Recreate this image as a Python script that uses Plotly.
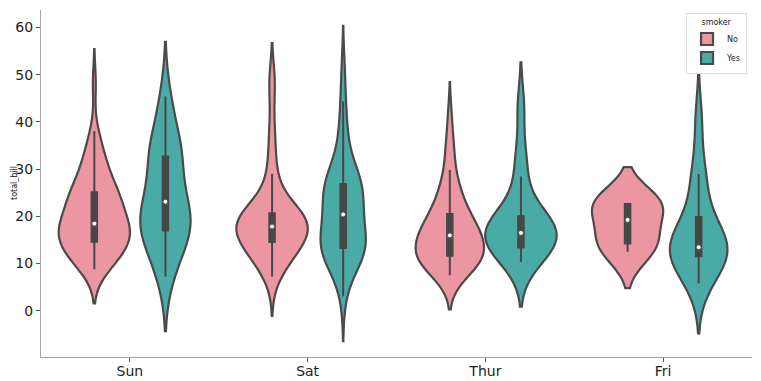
import numpy as np
import plotly.graph_objects as go

# ---- data (tips dataset, total_bill by day and smoker) ----
days = ["Sun", "Sat", "Thur", "Fri"]
smoker_levels = ["No", "Yes"]
y_ticks = [0, 10, 20, 30, 40, 50, 60]

sun_no = [16.99, 10.34, 21.01, 23.68, 24.59, 25.29, 8.77, 26.88, 15.04, 14.78,
          10.27, 35.26, 15.42, 18.43, 14.83, 21.58, 10.33, 16.29, 16.97, 17.46,
          13.94, 9.68, 30.4, 18.29, 22.23, 32.4, 28.55, 18.04, 12.54, 10.29,
          34.81, 9.94, 25.56, 19.49, 38.07, 23.95, 25.71, 17.31, 29.93, 14.07,
          13.13, 17.26, 24.55, 19.77, 29.85, 48.17, 25, 13.39, 16.49, 21.5,
          12.66, 16.21, 13.81, 24.52, 20.76, 31.71, 20.69]
sun_yes = [17.51, 7.25, 31.85, 16.82, 32.9, 17.89, 14.48, 9.6, 34.63, 34.65,
           23.33, 45.35, 23.17, 40.55, 20.9, 30.46, 18.15, 23.1, 15.69]
sat_no = [20.65, 17.92, 20.29, 15.77, 39.42, 19.82, 17.81, 13.37, 12.69, 21.7,
          19.65, 9.55, 18.35, 15.06, 20.69, 17.78, 24.06, 16.31, 16.93, 18.69,
          31.27, 16.04, 26.41, 48.27, 17.59, 20.08, 16.45, 20.23, 12.02, 17.07,
          14.73, 10.51, 20.92, 18.24, 14, 7.25, 48.33, 20.45, 13.28, 11.61,
          10.77, 10.07, 35.83, 29.03, 17.82]
sat_yes = [38.01, 11.24, 20.29, 13.81, 11.02, 18.29, 3.07, 15.01, 26.86, 25.28,
           17.92, 44.3, 22.42, 15.36, 20.49, 25.21, 14.31, 10.59, 10.63, 50.81,
           15.81, 26.59, 38.73, 24.27, 12.76, 30.06, 25.89, 13.27, 28.17, 12.9,
           28.15, 11.59, 7.74, 30.14, 22.12, 24.01, 15.69, 15.53, 12.6, 32.83,
           27.18, 22.67]
thur_no = [27.2, 22.76, 17.29, 16.66, 10.07, 15.98, 34.83, 13.03, 18.28, 24.71,
           21.16, 10.65, 12.43, 24.08, 11.69, 13.42, 14.26, 15.95, 12.48, 29.8,
           8.52, 14.52, 11.38, 22.82, 19.08, 20.27, 11.17, 12.26, 18.26, 8.51,
           10.33, 14.15, 13.16, 17.47, 34.3, 41.19, 27.05, 16.43, 8.35, 18.64,
           11.87, 9.78, 7.51, 7.56, 18.78]
thur_yes = [19.44, 32.68, 16, 19.81, 28.44, 15.48, 16.58, 10.34, 43.11, 13,
            13.51, 18.71, 12.74, 13, 16.4, 20.53, 16.47]
fri_no = [22.49, 22.75, 12.46, 15.98]
fri_yes = [28.97, 5.75, 16.32, 40.17, 27.28, 12.03, 21.01, 11.35, 15.38, 12.16,
           13.42, 8.58, 13.42, 16.27, 10.09]

groups = {
    ("Sun", "No"): sun_no, ("Sun", "Yes"): sun_yes,
    ("Sat", "No"): sat_no, ("Sat", "Yes"): sat_yes,
    ("Thur", "No"): thur_no, ("Thur", "Yes"): thur_yes,
    ("Fri", "No"): fri_no, ("Fri", "Yes"): fri_yes,
}

# ---- style ----
fill = {"No": "rgb(236,150,161)", "Yes": "rgb(74,171,166)"}
edge = "#4a4a4a"
boxc = "#474747"
offset = {"No": -0.2, "Yes": 0.2}
full_w = 0.4          # full width (data units) of the widest violin in each day
px_per_unit = 711 / 4.0


def scott_bw(v):
    v = np.asarray(v, float)
    return v.std(ddof=1) * len(v) ** (-0.2)


def kde_peak(v, bw):
    v = np.asarray(v, float)
    grid = np.linspace(v.min() - 2 * bw, v.max() + 2 * bw, 100)
    d = np.exp(-0.5 * ((grid[:, None] - v[None, :]) / bw) ** 2).sum(1)
    d /= len(v) * bw * np.sqrt(2 * np.pi)
    return d.max(), grid[0], grid[-1]


stats = {}
for key, vals in groups.items():
    bw = scott_bw(vals)
    peak, lo, hi = kde_peak(vals, bw)
    stats[key] = (bw, peak, lo, hi)
# seaborn scale="area" with scale_hue=True: scaled within each day
day_peak = {d: max(stats[(d, s)][1] for s in smoker_levels) for d in days}
ymin = min(s[2] for s in stats.values())
ymax = max(s[3] for s in stats.values())
pad = 0.05 * (ymax - ymin)

fig = go.Figure()
for i, d in enumerate(days):
    for s in smoker_levels:
        vals = groups[(d, s)]
        bw, peak, lo, hi = stats[(d, s)]
        w = full_w * peak / day_peak[d]
        pos = i + offset[s]
        fig.add_trace(go.Violin(
            x0=pos, y=vals, name=s, legendgroup=s, showlegend=(d == "Sun"),
            width=w, bandwidth=bw, spanmode="soft", scalemode="width",
            fillcolor=fill[s], line=dict(color=edge, width=2.2), opacity=1,
            points=False, meanline_visible=False, hoverinfo="skip",
            box=dict(visible=True, width=(5.5 / px_per_unit) / w,
                     fillcolor=boxc, line=dict(color=boxc, width=2)),
        ))
        fig.add_trace(go.Scatter(
            x=[pos], y=[float(np.median(vals))], mode="markers",
            marker=dict(color="white", size=5, line=dict(color=edge, width=1)),
            showlegend=False, hoverinfo="skip",
        ))

axis_common = dict(
    showline=True, linecolor="#a6a6a6", linewidth=1.25, ticks="outside",
    ticklen=4, tickwidth=1, tickcolor="#555555", showgrid=False,
    zeroline=False, automargin=False,
    tickfont=dict(family="DejaVu Sans", size=14, color="#222222"),
)
# the page body adds an 8px offset, so the figure is 8px smaller each way
fig.update_layout(
    width=753, height=373,
    margin=dict(l=33, r=9, t=2, b=24),
    plot_bgcolor="white", paper_bgcolor="white",
    violinmode="overlay",
    font=dict(family="DejaVu Sans", color="#222222"),
    xaxis=dict(range=[-0.5, 3.5], tickmode="array",
               tickvals=list(range(len(days))), ticktext=days,
               ticklabelstandoff=-3, **axis_common),
    yaxis=dict(range=[ymin - pad, ymax + pad], tickmode="array",
               tickvals=y_ticks, **axis_common),
    legend=dict(x=0.993, y=0.991, xanchor="right", yanchor="top",
                bordercolor="#dddddd", borderwidth=1, bgcolor="white",
                font=dict(size=8), title=dict(text="smoker", side="top center",
                                              font=dict(size=8)),
                tracegroupgap=0, itemwidth=30),
    annotations=[dict(text="total_bill", textangle=-90, xref="paper",
                      yref="paper", x=-33 / 711, y=0.5, xanchor="left",
                      yanchor="middle", showarrow=False,
                      font=dict(size=8, color="#222222"))],
)

fig.write_html("out.html")
